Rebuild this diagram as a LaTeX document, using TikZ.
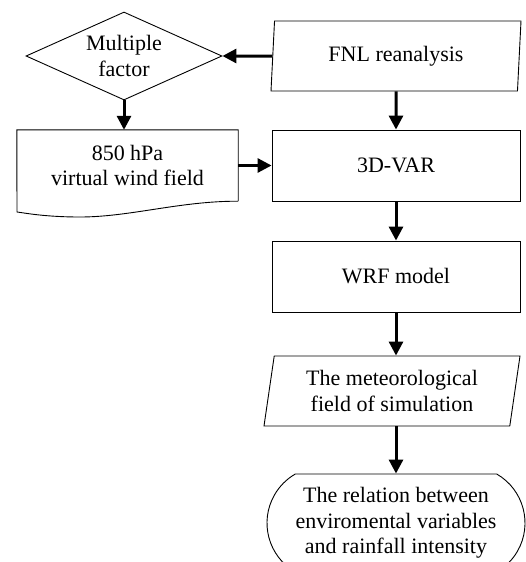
\documentclass[tikz,border=0pt]{standalone}
\usepackage{fontspec}
\setmainfont{Liberation Serif}
\usetikzlibrary{shapes.geometric,shapes.misc,arrows.meta}

\begin{document}
\begin{tikzpicture}[x=1pt,y=-1pt]
\tikzstyle{every node}+=[inner sep=0pt,align=center,font=\fontsize{22}{25.5}\selectfont]
\tikzstyle{box}=[draw,line width=0.9pt,minimum width=248,minimum height=71]
\tikzstyle{para}=[draw,line width=0.9pt,trapezium,trapezium left angle=80,trapezium right angle=100,trapezium stretches body,minimum width=250,minimum height=70]
\tikzstyle{arr}=[line width=3pt,-{Triangle[length=14pt,width=14pt]}]
\useasboundingbox (0,0) rectangle (525,562);
\node [draw,line width=0.9pt,diamond,aspect=2.2,minimum width=196,minimum height=88] (mf) at (124,56) {Multiple\\factor};
\node [para] (fnl) at (396,56) {FNL reanalysis};
\node [minimum width=221,minimum height=71] (wind) at (127.5,165.5) {850 hPa\\virtual wind field};
\draw [line width=0.9pt] (wind.south east) -- (wind.north east) -- (wind.north west) -- (17,212)
  .. controls (25,213) and (45,217) .. (80,217) .. controls (130,217) and (180,201) .. (wind.south east);
\node [box] (var) at (396,165.5) {3D-VAR};
\node [box] (wrf) at (396,276.5) {WRF model};
\node [para,trapezium left angle=76,trapezium right angle=104,minimum width=256] (met) at (392,391) {The meteorological\\field of simulation};
\node [draw,line width=0.9pt,rounded rectangle,rounded rectangle arc length=120,minimum width=258,minimum height=98] (rel) at (396,523) {The relation between\\enviromental variables\\and rainfall intensity};
\draw [arr] (fnl.west) -- (mf.east);
\draw [arr] (mf.south) -- (mf.south |- wind.north);
\draw [arr] (fnl.south) -- (var.north);
\draw [arr] (wind.east) -- (var.west);
\draw [arr] (var.south) -- (wrf.north);
\draw [arr] (wrf.south) -- (wrf.south |- met.north);
\draw [arr] (wrf.south |- met.south) -- (wrf.south |- rel.north);
\end{tikzpicture}
\end{document}
